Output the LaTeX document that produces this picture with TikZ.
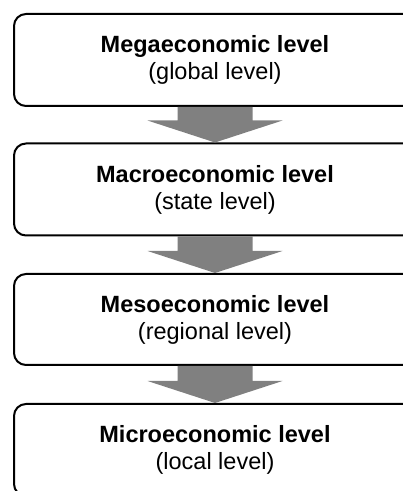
\documentclass[tikz,border=0pt]{standalone}
\usepackage{fontspec}
\setmainfont{Liberation Sans}
\usetikzlibrary{calc}
\definecolor{arrgray}{HTML}{808080}
\tikzset{
  levelbox/.style={draw=black, line width=2pt, rounded corners=12pt, fill=white,
    minimum width=402pt, align=center, inner sep=0pt,
    font=\fontsize{23.5}{27}\selectfont},
  flowarr/.style={fill=arrgray, draw=none}
}
\begin{document}
\begin{tikzpicture}[x=1pt,y=1pt]
\useasboundingbox (0,0) rectangle (403,491);
\clip (0,0) rectangle (403,491);
\node[levelbox, minimum height=92pt] (b1) at (215,431) {\textbf{Megaeconomic level}\\(global level)};
\node[levelbox, minimum height=92pt] (b2) at (215,301.5) {\textbf{Macroeconomic level}\\(state level)};
\node[levelbox, minimum height=91pt] (b3) at (215,171.5) {\textbf{Mesoeconomic level}\\(regional level)};
\node[levelbox, minimum height=92pt] (b4) at (215,41) {\textbf{Microeconomic level}\\(local level)};
\foreach \a/\b in {b1/b2, b2/b3, b3/b4}{
  \fill[flowarr] let \p1=(\a.south), \p2=(\b.north) in
    (\x1-37.5pt,\y1) -- (\x1+37.5pt,\y1) -- (\x1+37.5pt,\y2+22pt) -- (\x1+67.5pt,\y2+22pt)
    -- (\x2,\y2) -- (\x1-67.5pt,\y2+22pt) -- (\x1-37.5pt,\y2+22pt) -- cycle;
}
\end{tikzpicture}
\end{document}
